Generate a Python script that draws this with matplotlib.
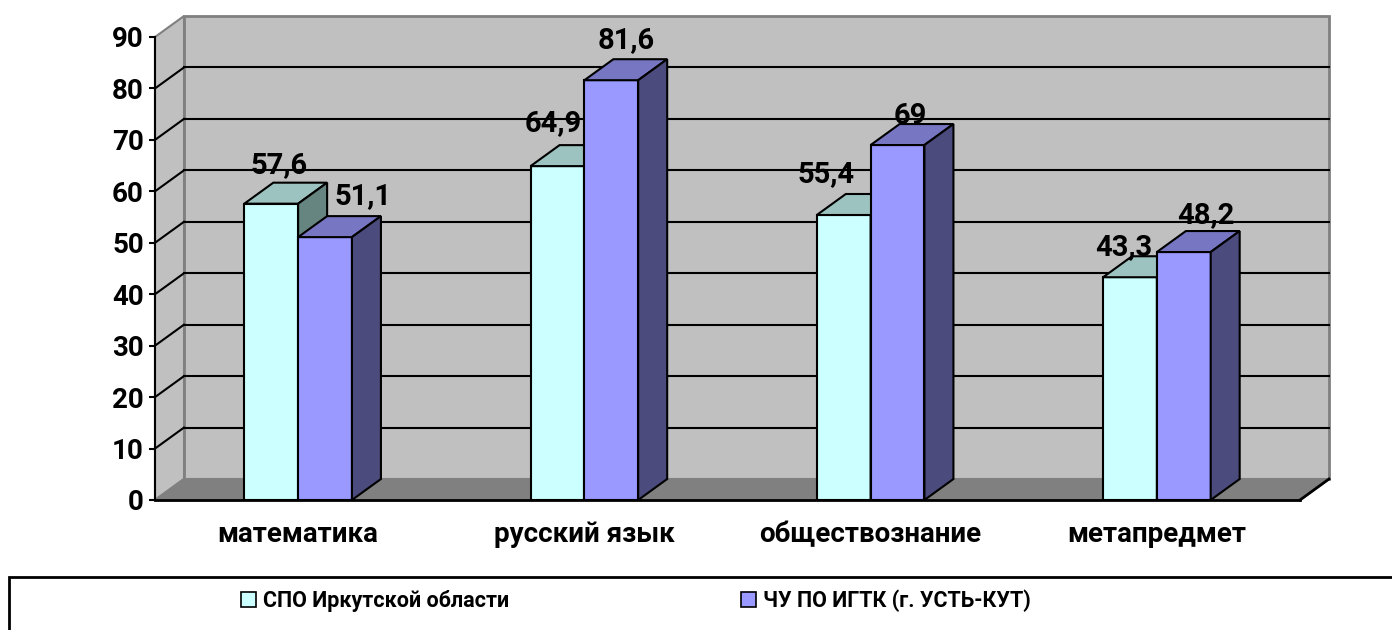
import matplotlib.pyplot as plt
from matplotlib.patches import Polygon, Patch, Rectangle

categories = ['математика', 'русский язык', 'обществознание', 'метапредмет']
spo_irk = [57.6, 64.9, 55.4, 43.3]
chu_igtk = [51.1, 81.6, 69, 48.2]
series_names = ['СПО Иркутской области', 'ЧУ ПО ИГТК (г. УСТЬ-КУТ)']
y_ticks = list(range(0, 100, 10))

plt.rcParams['font.family'] = ['Roboto', 'DejaVu Sans']
plt.rcParams['font.weight'] = 'bold'

W, H = 1392, 630
fig = plt.figure(figsize=(W / 100, H / 100), dpi=100)
# front plane of the 3d box in pixels: x 155..1300, y 37..500
ax = fig.add_axes([155 / W, 1 - 500 / H, 1145 / W, 463 / H])
ax.set_xlim(-0.5, len(categories) - 0.5)
ax.set_ylim(0, 90)
ax.patch.set_visible(False)

px_x = 1145 / len(categories)   # pixels per x unit
px_y = 463 / 90                   # pixels per y unit
ddx = 29 / px_x                   # depth offset in data units
ddy = 21 / px_y

x0, x1 = -0.5, len(categories) - 0.5

def poly(pts, fc, ec, lw=1.5, z=1):
    p = Polygon(pts, closed=True, facecolor=fc, edgecolor=ec, lw=lw,
                joinstyle='miter', clip_on=False, zorder=z)
    ax.add_patch(p)

# walls and floor
poly([(x0 + ddx, ddy), (x1 + ddx, ddy), (x1 + ddx, 90 + ddy), (x0 + ddx, 90 + ddy)],
     '#c0c0c0', '#808080', 2, 0.5)
poly([(x0, 0), (x0, 90), (x0 + ddx, 90 + ddy), (x0 + ddx, ddy)], '#c0c0c0', '#808080', 1.5, 0.6)
poly([(x0, 0), (x1, 0), (x1 + ddx, ddy), (x0 + ddx, ddy)], '#808080', '#808080', 1.5, 0.7)
ax.plot([x1, x1 + ddx], [0, ddy], color='black', lw=2, clip_on=False, zorder=0.8)

# gridlines on back and left wall
for v in y_ticks[1:-1]:
    ax.plot([x0 + ddx, x1 + ddx], [v + ddy, v + ddy], color='black', lw=1.5,
            clip_on=False, zorder=0.9)
    ax.plot([x0, x0 + ddx], [v, v + ddy], color='black', lw=1.5,
            clip_on=False, zorder=0.9)

bw = 0.188
series = [
    (spo_irk, -bw / 2, ('#CCFFFF', '#9CC3BF', '#668580')),
    (chu_igtk, bw / 2, ('#9999FF', '#7676C2', '#4B4B7D')),
]
# label offsets (pixels) relative to the front-top centre of each bar
label_offsets = [
    [(8, 39), (-4, 43), (-18, 41), (-6, 30)],
    [(38, 41), (15, 40), (13, 29), (22, 37)],
]

z = 2
for i in range(len(categories)):
    for s, (vals, off, (cf, ct, cs)) in enumerate(series):
        h = vals[i]
        ax.bar(i + off, h, width=bw, color=cf, edgecolor='black', lw=1.5, zorder=z)
        xl, xr = i + off - bw / 2, i + off + bw / 2
        poly([(xl, h), (xr, h), (xr + ddx, h + ddy), (xl + ddx, h + ddy)], ct, 'black', 1.5, z)
        poly([(xr, 0), (xr, h), (xr + ddx, h + ddy), (xr + ddx, ddy)], cs, 'black', 1.5, z)
        dx, dy = label_offsets[s][i]
        ax.annotate(f'{h:g}'.replace('.', ','), (i + off, h),
                    xytext=(dx * 0.72, dy * 0.72), textcoords='offset points',
                    ha='center', va='center', fontsize=21, fontweight='bold',
                    zorder=10, annotation_clip=False)
        z += 1

for side in ['top', 'right']:
    ax.spines[side].set_visible(False)
ax.spines['left'].set_linewidth(1.5)
ax.spines['bottom'].set_linewidth(2)
ax.spines['left'].set_zorder(1)
ax.spines['bottom'].set_zorder(1)

ax.set_yticks(y_ticks)
ax.tick_params(axis='y', length=4, width=1.5, labelsize=20, pad=4)
ax.set_xticks(range(len(categories)))
ax.set_xticklabels(categories)
ax.tick_params(axis='x', length=0, labelsize=20, pad=15)
for t in ax.get_xticklabels() + ax.get_yticklabels():
    t.set_fontweight('bold')

# legend box running off the figure edge
fig.patches.append(Rectangle((9 / W, -0.1), 1.1, 0.1 + 53 / H, transform=fig.transFigure,
                             fill=False, edgecolor='black', lw=2))
handles = [Patch(facecolor=c[0], edgecolor='black', lw=1.2) for _, _, c in series]
fig.legend(handles, series_names, ncol=2, frameon=False, loc='center left',
           bbox_to_anchor=(241 / W, 1 - 601 / H), borderpad=0, borderaxespad=0,
           handlelength=0.7, handleheight=0.7, handletextpad=0.3, columnspacing=10.8,
           prop={'size': 15.5, 'weight': 'bold'})

fig.savefig('out.png', dpi=100)
